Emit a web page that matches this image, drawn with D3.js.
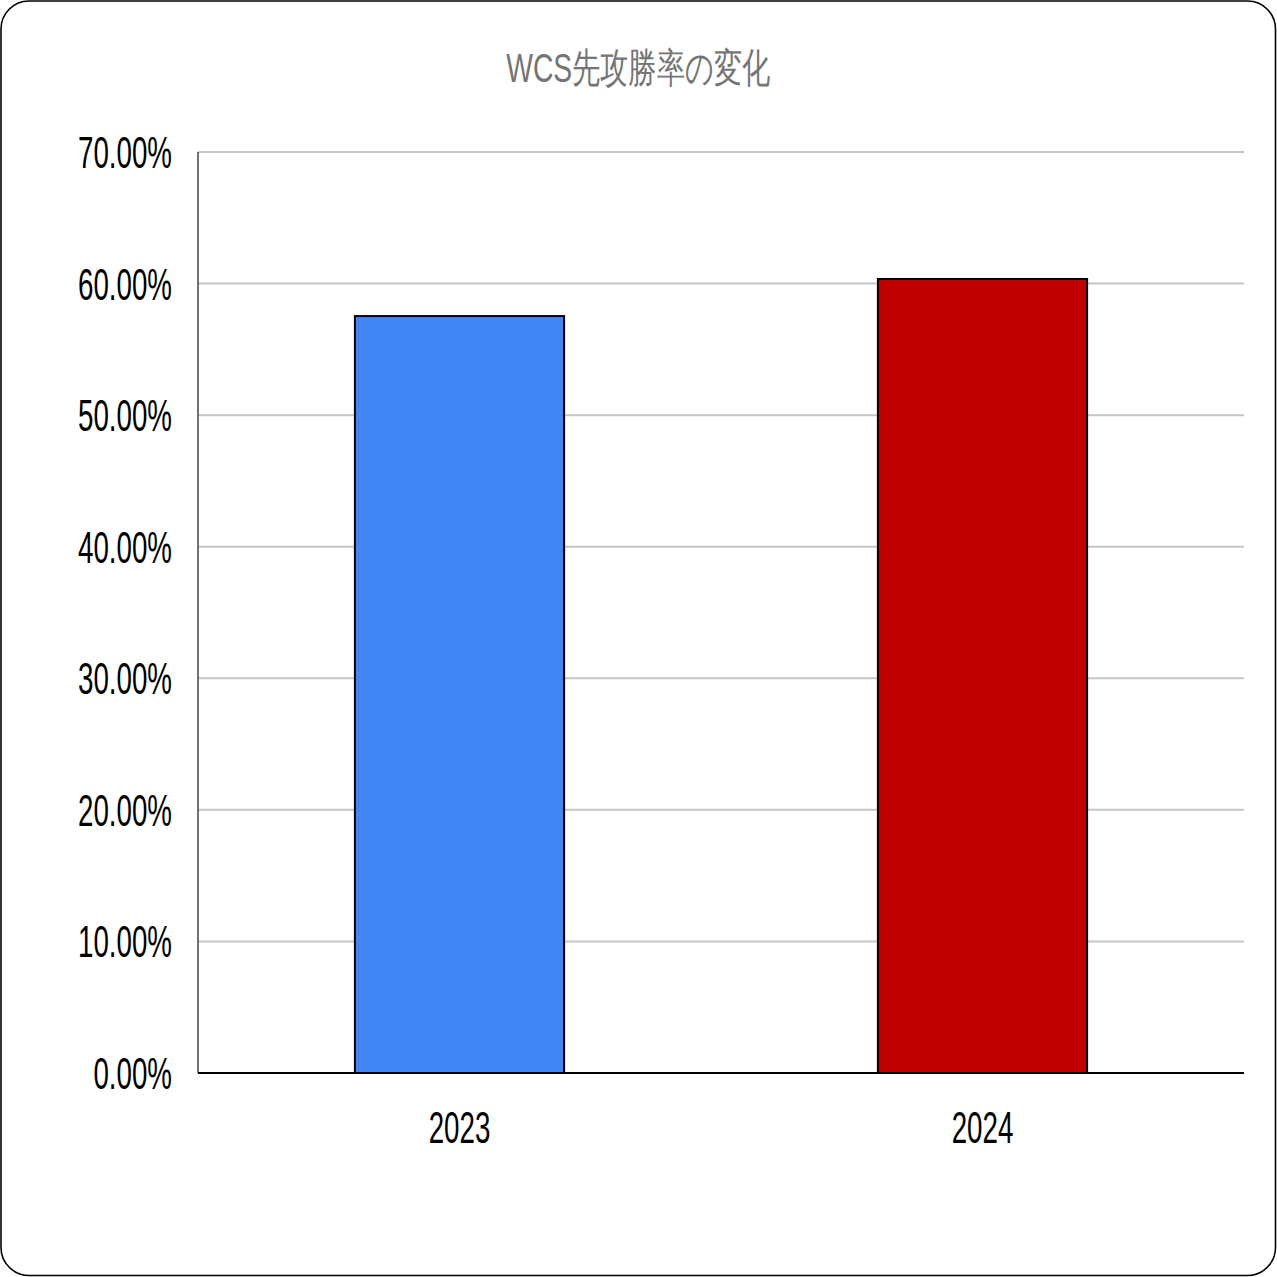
<!DOCTYPE html>
<html>
<head>
<meta charset="utf-8">
<script src="https://cdn.jsdelivr.net/npm/d3@7"></script>
<style>
  html, body { margin: 0; padding: 0; background: #fff; }
  svg text { font-family: "Liberation Sans", Arial, sans-serif; }
</style>
</head>
<body>
<script>
var years = ["2023", "2024"];
var winRates = [0.5753, 0.6035];
var barColors = ["#4285f4", "#c00000"];
var yTicks = [0, 0.1, 0.2, 0.3, 0.4, 0.5, 0.6, 0.7];
var title = "WCS先攻勝率の変化";

var width = 1277, height = 1277;
var plotLeft = 198, plotRight = 1244, plotTop = 152, plotBottom = 1073;
var squeeze = 0.63;

var svg = d3.select("body").append("svg")
    .attr("width", width).attr("height", height);

// frame
svg.append("rect")
    .attr("x", 1).attr("y", 1)
    .attr("width", width - 2.5).attr("height", height - 2.5)
    .attr("rx", 28).attr("ry", 28)
    .attr("fill", "#fff").attr("stroke", "#000").attr("stroke-width", 1.6);

var x = d3.scaleBand().domain(years).range([plotLeft, plotRight]).paddingInner(0.6).paddingOuter(0.3);
var y = d3.scaleLinear().domain([0, 0.7]).range([plotBottom, plotTop]);
var fmt = d3.format(".2%");

// title
svg.append("text")
    .attr("transform", "translate(638,67) scale(0.69,1)")
    .attr("text-anchor", "middle").attr("dominant-baseline", "central")
    .attr("font-size", 41).attr("fill", "#757575")
    .text(title);

// grid lines
svg.selectAll("line.grid").data(yTicks.slice(1)).enter().append("line")
    .attr("class", "grid")
    .attr("x1", plotLeft).attr("x2", plotRight)
    .attr("y1", function(d) { return y(d); }).attr("y2", function(d) { return y(d); })
    .attr("stroke", "#c6c6c6").attr("stroke-width", 2);

// y labels
svg.selectAll("text.ytick").data(yTicks).enter().append("text")
    .attr("class", "ytick")
    .attr("transform", function(d) { return "translate(172," + (y(d) + 16) + ") scale(" + squeeze + ",1)"; })
    .attr("text-anchor", "end")
    .attr("font-size", 44).attr("fill", "#000")
    .text(function(d) { return fmt(d); });

// left axis
svg.append("line")
    .attr("x1", plotLeft).attr("x2", plotLeft).attr("y1", plotTop).attr("y2", plotBottom)
    .attr("stroke", "#444").attr("stroke-width", 1.5);

// bars
svg.selectAll("rect.bar").data(winRates).enter().append("rect")
    .attr("class", "bar")
    .attr("x", function(d, i) { return x(years[i]); })
    .attr("width", x.bandwidth())
    .attr("y", function(d) { return y(d); })
    .attr("height", function(d) { return plotBottom - y(d); })
    .attr("fill", function(d, i) { return barColors[i]; })
    .attr("stroke", "#000").attr("stroke-width", 2);

// baseline
svg.append("line")
    .attr("x1", plotLeft).attr("x2", plotRight).attr("y1", plotBottom).attr("y2", plotBottom)
    .attr("stroke", "#000").attr("stroke-width", 2);

// x labels
svg.selectAll("text.xtick").data(years).enter().append("text")
    .attr("class", "xtick")
    .attr("transform", function(d) { return "translate(" + (x(d) + x.bandwidth() / 2) + ",1143) scale(" + squeeze + ",1)"; })
    .attr("text-anchor", "middle")
    .attr("font-size", 44).attr("fill", "#000")
    .text(function(d) { return d; });
</script>
</body>
</html>
